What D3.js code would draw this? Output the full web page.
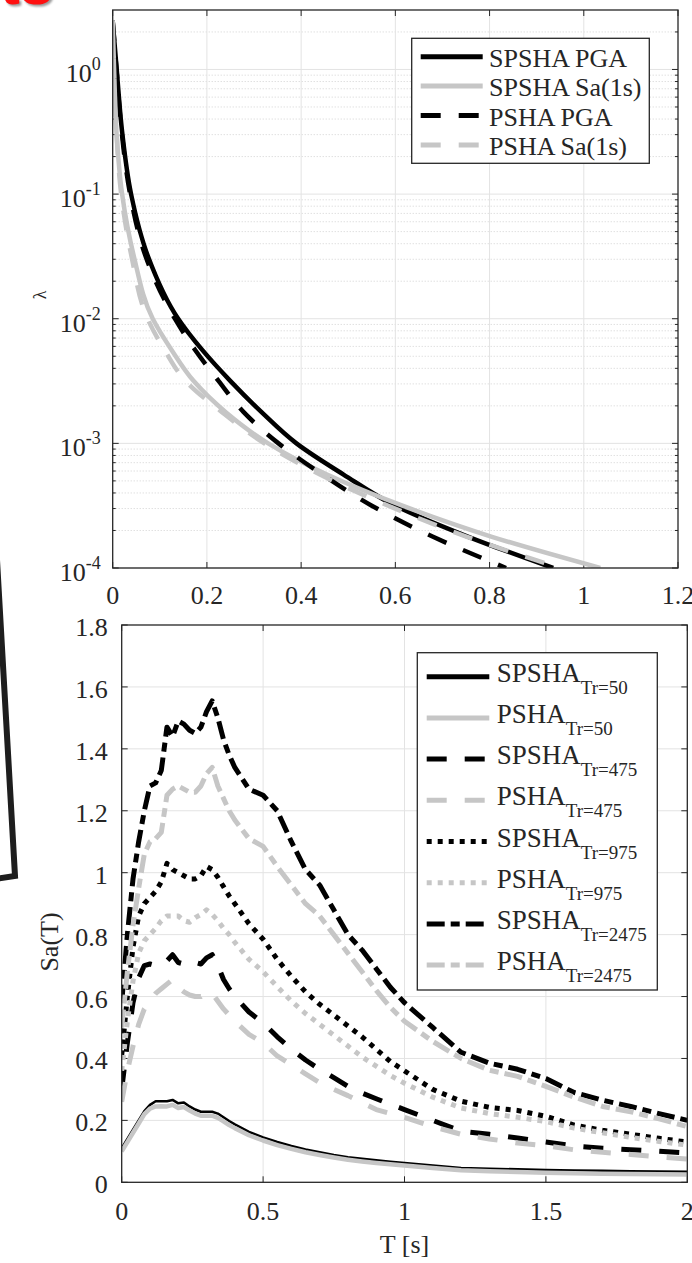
<!DOCTYPE html>
<html>
<head>
<meta charset="utf-8">
<script src="https://cdn.jsdelivr.net/npm/d3@7/dist/d3.min.js"></script>
<style>
  body { margin: 0; background: #fff; }
  svg { display: block; }
  text { font-family: "Liberation Serif", "Times New Roman", serif; fill: #262626; }
</style>
</head>
<body>
<svg id="chart" width="692" height="1263"></svg>
<script>
// ---- top panel: hazard curves (lambda vs intensity [g]) ----
// all four curves are read at the same lambda levels
const lambdaLevels = [2.45, 1, 0.316, 0.1, 0.0316, 0.01, 0.00562, 0.00316, 0.00178, 0.001, 5.62e-4, 3.16e-4, 1.78e-4, 1e-4]
const spshaPgaX = [0, 0.0085, 0.02, 0.039, 0.075, 0.139, 0.19, 0.25, 0.316, 0.39, 0.49, 0.6, 0.755, 0.935]
const spshaSaX = [0, 0.003, 0.008, 0.02, 0.045, 0.085, 0.125, 0.172, 0.24, 0.33, 0.455, 0.615, 0.805, 1.035]
const pshaPgaX = [0, 0.008, 0.019, 0.037, 0.07, 0.132, 0.175, 0.225, 0.278, 0.352, 0.445, 0.55, 0.68, 0.835]
const pshaSaX = [0, 0.003, 0.008, 0.018, 0.04, 0.074, 0.11, 0.155, 0.232, 0.322, 0.44, 0.585, 0.752, 0.95]

const topNames = ["SPSHA PGA", "SPSHA Sa(1s)", "PSHA PGA", "PSHA Sa(1s)"]
const topXTicks = [0, 0.2, 0.4, 0.6, 0.8, 1, 1.2]
const topYTicks = [1e-4, 1e-3, 1e-2, 1e-1, 1]

// ---- bottom panel: uniform hazard spectra ----
const periods = [0, 0.02, 0.04, 0.06, 0.08, 0.1, 0.12, 0.14, 0.16, 0.18, 0.2, 0.22, 0.24, 0.26, 0.28, 0.3, 0.32, 0.34, 0.36, 0.38, 0.4,
  0.45, 0.5, 0.55, 0.6, 0.65, 0.7, 0.75, 0.8, 0.85, 0.9, 0.95, 1.0, 1.1, 1.2, 1.3, 1.4, 1.5, 1.6, 1.7, 1.8, 1.9, 2.0]
const spsha50 = [0.11, 0.14, 0.17, 0.2, 0.23, 0.25, 0.262, 0.262, 0.262, 0.266, 0.255, 0.258, 0.245, 0.235, 0.228, 0.228, 0.228, 0.222, 0.21, 0.198, 0.187,
  0.163, 0.145, 0.13, 0.117, 0.106, 0.097, 0.088, 0.081, 0.076, 0.071, 0.066, 0.062, 0.054, 0.046, 0.044, 0.042, 0.04, 0.038, 0.037, 0.036, 0.035, 0.034]
const psha50 = [0.10, 0.13, 0.16, 0.19, 0.22, 0.238, 0.245, 0.246, 0.245, 0.25, 0.24, 0.243, 0.232, 0.222, 0.215, 0.215, 0.215, 0.208, 0.197, 0.185, 0.175,
  0.152, 0.135, 0.12, 0.108, 0.097, 0.088, 0.08, 0.073, 0.067, 0.062, 0.058, 0.054, 0.046, 0.039, 0.036, 0.033, 0.031, 0.029, 0.028, 0.027, 0.026, 0.025]
const spsha475 = [0.30, 0.45, 0.58, 0.66, 0.70, 0.705, 0.70, 0.70, 0.715, 0.735, 0.71, 0.705, 0.70, 0.71, 0.705, 0.725, 0.735, 0.70, 0.655, 0.625, 0.60,
  0.55, 0.515, 0.47, 0.43, 0.395, 0.365, 0.338, 0.31, 0.288, 0.27, 0.252, 0.235, 0.2, 0.165, 0.155, 0.143, 0.13, 0.117, 0.11, 0.105, 0.1, 0.095]
const psha475 = [0.26, 0.36, 0.44, 0.51, 0.56, 0.585, 0.61, 0.625, 0.64, 0.655, 0.63, 0.615, 0.605, 0.6, 0.6, 0.615, 0.61, 0.585, 0.56, 0.54, 0.52,
  0.478, 0.45, 0.408, 0.38, 0.35, 0.322, 0.3, 0.28, 0.257, 0.235, 0.222, 0.21, 0.18, 0.155, 0.14, 0.127, 0.118, 0.105, 0.097, 0.09, 0.082, 0.075]
const spsha975 = [0.41, 0.6, 0.76, 0.86, 0.9, 0.92, 0.94, 0.97, 1.03, 1.01, 1.0, 0.99, 0.98, 0.98, 0.99, 1.02, 1.01, 0.985, 0.955, 0.925, 0.9,
  0.835, 0.785, 0.72, 0.665, 0.615, 0.575, 0.54, 0.505, 0.47, 0.43, 0.39, 0.36, 0.3, 0.262, 0.242, 0.232, 0.213, 0.185, 0.168, 0.155, 0.142, 0.13]
const psha975 = [0.36, 0.52, 0.65, 0.74, 0.78, 0.80, 0.82, 0.845, 0.86, 0.86, 0.86, 0.845, 0.84, 0.855, 0.865, 0.88, 0.865, 0.845, 0.82, 0.8, 0.775,
  0.72, 0.68, 0.632, 0.585, 0.545, 0.51, 0.475, 0.44, 0.405, 0.375, 0.345, 0.32, 0.275, 0.24, 0.222, 0.21, 0.196, 0.175, 0.16, 0.145, 0.132, 0.12]
const spsha2475 = [0.58, 0.8, 0.98, 1.1, 1.2, 1.28, 1.29, 1.33, 1.47, 1.44, 1.49, 1.48, 1.46, 1.45, 1.47, 1.52, 1.555, 1.5, 1.43, 1.38, 1.34,
  1.27, 1.25, 1.2, 1.1, 1.01, 0.96, 0.88, 0.8, 0.75, 0.69, 0.63, 0.58, 0.5, 0.42, 0.385, 0.365, 0.335, 0.29, 0.265, 0.245, 0.222, 0.2]
const psha2475 = [0.5, 0.68, 0.83, 0.95, 1.06, 1.1, 1.11, 1.13, 1.25, 1.27, 1.28, 1.27, 1.26, 1.26, 1.28, 1.32, 1.34, 1.28, 1.24, 1.2, 1.17,
  1.11, 1.085, 1.02, 0.96, 0.9, 0.86, 0.8, 0.74, 0.68, 0.62, 0.565, 0.52, 0.455, 0.4, 0.362, 0.342, 0.31, 0.275, 0.245, 0.228, 0.205, 0.18]

const botNames = ["SPSHA", "PSHA", "SPSHA", "PSHA", "SPSHA", "PSHA", "SPSHA", "PSHA"]
const botSubs = ["Tr=50", "Tr=50", "Tr=475", "Tr=475", "Tr=975", "Tr=975", "Tr=2475", "Tr=2475"]
const botXTicks = [0, 0.5, 1, 1.5, 2]
const botYTicks = [0, 0.2, 0.4, 0.6, 0.8, 1, 1.2, 1.4, 1.6, 1.8]

const BLACK = "#000000", GRAY = "#c6c6c6", AXIS = "#262626"
const styles = {
    solid: null,
    dashed: "20,18",
    dotted: "5,6",
    dashdot: "18,6,9,6"
}

const svg = d3.select("#chart")
svg.append("rect").attr("width", 692).attr("height", 1263).attr("fill", "#fff")

// leftovers of the surrounding page: red heading and a dark frame
svg.append("text")
    .attr("x", 0).attr("y", 4)
    .style("font-family", "Liberation Sans, Arial, sans-serif")
    .style("font-weight", "bold")
    .style("font-size", "60px")
    .style("fill", "#ff1010")
    .style("filter", "drop-shadow(2px 2px 1px rgba(0,0,0,0.4))")
    .text("ts")
svg.append("polyline")
    .attr("points", "-3,560 15,876 -5,879")
    .attr("fill", "none")
    .attr("stroke", "#1e1e1e")
    .attr("stroke-width", 6)
    .attr("stroke-linejoin", "miter")

// ================= TOP PANEL =================
const tb = { left: 112.7, top: 10, right: 678, bottom: 568 }
const xTop = d3.scaleLinear().domain([0, 1.2]).range([tb.left, tb.right])
const yTop = d3.scaleLog().domain([1e-4, 3]).range([tb.bottom, tb.top])

let gTop = svg.append("g")

// minor log grid (dotted)
let minorVals = []
for (let e = -4; e <= 0; e++) {
    for (let k = 2; k <= 9; k++) {
        let v = k * Math.pow(10, e)
        if (v < 3) minorVals.push(v)
    }
}
gTop.selectAll(".minor").data(minorVals).enter().append("line")
    .attr("x1", tb.left).attr("x2", tb.right)
    .attr("y1", d => yTop(d)).attr("y2", d => yTop(d))
    .attr("stroke", "#d2d2d2").attr("stroke-width", 1)
    .attr("stroke-dasharray", "1,2")
gTop.selectAll(".hmajor").data(topYTicks).enter().append("line")
    .attr("x1", tb.left).attr("x2", tb.right)
    .attr("y1", d => yTop(d)).attr("y2", d => yTop(d))
    .attr("stroke", "#e3e3e3").attr("stroke-width", 1)
gTop.selectAll(".vmajor").data(topXTicks.slice(1, -1)).enter().append("line")
    .attr("y1", tb.top).attr("y2", tb.bottom)
    .attr("x1", d => xTop(d)).attr("x2", d => xTop(d))
    .attr("stroke", "#e3e3e3").attr("stroke-width", 1)

// ticks (inside, both sides like matlab box on)
topXTicks.forEach(function (t) {
    gTop.append("line").attr("x1", xTop(t)).attr("x2", xTop(t)).attr("y1", tb.bottom).attr("y2", tb.bottom - 6).attr("stroke", AXIS)
    gTop.append("line").attr("x1", xTop(t)).attr("x2", xTop(t)).attr("y1", tb.top).attr("y2", tb.top + 6).attr("stroke", AXIS)
})
topYTicks.forEach(function (t) {
    gTop.append("line").attr("x1", tb.left).attr("x2", tb.left + 6).attr("y1", yTop(t)).attr("y2", yTop(t)).attr("stroke", AXIS)
    gTop.append("line").attr("x1", tb.right).attr("x2", tb.right - 6).attr("y1", yTop(t)).attr("y2", yTop(t)).attr("stroke", AXIS)
})
minorVals.forEach(function (t) {
    gTop.append("line").attr("x1", tb.left).attr("x2", tb.left + 3).attr("y1", yTop(t)).attr("y2", yTop(t)).attr("stroke", AXIS)
    gTop.append("line").attr("x1", tb.right).attr("x2", tb.right - 3).attr("y1", yTop(t)).attr("y2", yTop(t)).attr("stroke", AXIS)
})

// curves
gTop.append("clipPath").attr("id", "clipTop").append("rect")
    .attr("x", tb.left).attr("y", tb.top).attr("width", tb.right - tb.left).attr("height", tb.bottom - tb.top)

const topSeries = [
    { xs: spshaPgaX, color: BLACK, dash: styles.solid },
    { xs: spshaSaX, color: GRAY, dash: styles.solid },
    { xs: pshaPgaX, color: BLACK, dash: styles.dashed },
    { xs: pshaSaX, color: GRAY, dash: styles.dashed }
]
let topLine = d3.line()
    .x(d => xTop(d[0]))
    .y(d => yTop(d[1]))
    .curve(d3.curveMonotoneY)

gTop.append("g").attr("clip-path", "url(#clipTop)")
    .selectAll("path").data(topSeries).enter().append("path")
    .attr("d", s => topLine(d3.zip(s.xs, lambdaLevels)))
    .attr("fill", "none")
    .attr("stroke", s => s.color)
    .attr("stroke-width", 4.5)
    .attr("stroke-dasharray", s => s.dash)

// box
gTop.append("rect")
    .attr("x", tb.left).attr("y", tb.top).attr("width", tb.right - tb.left).attr("height", tb.bottom - tb.top)
    .attr("fill", "none").attr("stroke", AXIS).attr("stroke-width", 1.3)

// tick labels
gTop.selectAll(".xl").data(topXTicks).enter().append("text")
    .attr("x", d => xTop(d)).attr("y", 604)
    .attr("text-anchor", "middle")
    .style("font-size", "26px")
    .text(d => d)
topYTicks.forEach(function (t) {
    let txt = gTop.append("text")
        .attr("x", tb.left - 12).attr("y", yTop(t) + 13)
        .attr("text-anchor", "end")
        .style("font-size", "26px")
    txt.append("tspan").text("10")
    txt.append("tspan").attr("dy", -12).style("font-size", "18px").text(Math.round(Math.log10(t)))
})
gTop.append("text")
    .attr("transform", "translate(46," + ((tb.top + tb.bottom) / 2 + 6) + ") rotate(-90)")
    .attr("text-anchor", "middle")
    .style("font-size", "18px")
    .text("λ")

// legend
let lgT = gTop.append("g")
lgT.append("rect").attr("x", 411.7).attr("y", 38.3).attr("width", 237.6).attr("height", 125)
    .attr("fill", "#fff").attr("stroke", AXIS).attr("stroke-width", 1.3)
topSeries.forEach(function (s, i) {
    let ly = 56.7 + i * 29.4
    lgT.append("line").attr("x1", 420.7).attr("x2", 482.7).attr("y1", ly).attr("y2", ly)
        .attr("stroke", s.color).attr("stroke-width", 5).attr("stroke-dasharray", s.dash)
    lgT.append("text").attr("x", 489).attr("y", ly + 10).style("font-size", "26px").text(topNames[i])
})

// ================= BOTTOM PANEL =================
const bb = { left: 121.7, top: 625, right: 687.3, bottom: 1182.3 }
const xBot = d3.scaleLinear().domain([0, 2]).range([bb.left, bb.right])
const yBot = d3.scaleLinear().domain([0, 1.8]).range([bb.bottom, bb.top])

let gBot = svg.append("g")
gBot.selectAll(".hg").data(botYTicks.slice(1, -1)).enter().append("line")
    .attr("x1", bb.left).attr("x2", bb.right)
    .attr("y1", d => yBot(d)).attr("y2", d => yBot(d))
    .attr("stroke", "#e3e3e3").attr("stroke-width", 1)
gBot.selectAll(".vg").data(botXTicks.slice(1, -1)).enter().append("line")
    .attr("y1", bb.top).attr("y2", bb.bottom)
    .attr("x1", d => xBot(d)).attr("x2", d => xBot(d))
    .attr("stroke", "#e3e3e3").attr("stroke-width", 1)
botXTicks.forEach(function (t) {
    gBot.append("line").attr("x1", xBot(t)).attr("x2", xBot(t)).attr("y1", bb.bottom).attr("y2", bb.bottom - 6).attr("stroke", AXIS)
    gBot.append("line").attr("x1", xBot(t)).attr("x2", xBot(t)).attr("y1", bb.top).attr("y2", bb.top + 6).attr("stroke", AXIS)
})
botYTicks.forEach(function (t) {
    gBot.append("line").attr("x1", bb.left).attr("x2", bb.left + 6).attr("y1", yBot(t)).attr("y2", yBot(t)).attr("stroke", AXIS)
    gBot.append("line").attr("x1", bb.right).attr("x2", bb.right - 6).attr("y1", yBot(t)).attr("y2", yBot(t)).attr("stroke", AXIS)
})

const botSeries = [
    { vals: spsha50, color: BLACK, dash: styles.solid, w: 2.5 },
    { vals: psha50, color: GRAY, dash: styles.solid, w: 4.5 },
    { vals: spsha475, color: BLACK, dash: styles.dashed, w: 5 },
    { vals: psha475, color: GRAY, dash: styles.dashed, w: 5 },
    { vals: spsha975, color: BLACK, dash: styles.dotted, w: 5 },
    { vals: psha975, color: GRAY, dash: styles.dotted, w: 5 },
    { vals: spsha2475, color: BLACK, dash: styles.dashdot, w: 5 },
    { vals: psha2475, color: GRAY, dash: styles.dashdot, w: 5 }
]
let botLine = d3.line()
    .x((d, i) => xBot(periods[i]))
    .y(d => yBot(d))

gBot.append("clipPath").attr("id", "clipBot").append("rect")
    .attr("x", bb.left).attr("y", bb.top).attr("width", bb.right - bb.left).attr("height", bb.bottom - bb.top)
gBot.append("g").attr("clip-path", "url(#clipBot)")
    .selectAll("path").data(botSeries).enter().append("path")
    .attr("d", s => botLine(s.vals))
    .attr("fill", "none")
    .attr("stroke", s => s.color)
    .attr("stroke-width", s => s.w)
    .attr("stroke-dasharray", s => s.dash)
    .attr("stroke-linejoin", "round")

gBot.append("rect")
    .attr("x", bb.left).attr("y", bb.top).attr("width", bb.right - bb.left).attr("height", bb.bottom - bb.top)
    .attr("fill", "none").attr("stroke", AXIS).attr("stroke-width", 1.3)

gBot.selectAll(".xl").data(botXTicks).enter().append("text")
    .attr("x", d => xBot(d)).attr("y", 1220)
    .attr("text-anchor", "middle")
    .style("font-size", "26px")
    .text(d => d)
gBot.selectAll(".yl").data(botYTicks).enter().append("text")
    .attr("x", bb.left - 14).attr("y", d => yBot(d) + 11)
    .attr("text-anchor", "end")
    .style("font-size", "26px")
    .text(d => d)
gBot.append("text")
    .attr("x", (bb.left + bb.right) / 2).attr("y", 1253)
    .attr("text-anchor", "middle")
    .style("font-size", "26px")
    .text("T [s]")
gBot.append("text")
    .attr("transform", "translate(58,942) rotate(-90)")
    .attr("text-anchor", "middle")
    .style("font-size", "26px")
    .text("Sa(T)")

// legend
let lgB = gBot.append("g")
lgB.append("rect").attr("x", 417.3).attr("y", 652.7).attr("width", 240).attr("height", 337.3)
    .attr("fill", "#fff").attr("stroke", AXIS).attr("stroke-width", 1.3)
botSeries.forEach(function (s, i) {
    let ly = 676.7 + i * 41.2
    lgB.append("line").attr("x1", 426.7).attr("x2", 489.3).attr("y1", ly).attr("y2", ly)
        .attr("stroke", s.color).attr("stroke-width", 5).attr("stroke-dasharray", s.dash)
    let t = lgB.append("text").attr("x", 496.7).attr("y", ly + 5).style("font-size", "27px")
    t.append("tspan").text(botNames[i])
    t.append("tspan").attr("dy", 12).style("font-size", "19px").text(botSubs[i])
})
</script>
</body>
</html>
